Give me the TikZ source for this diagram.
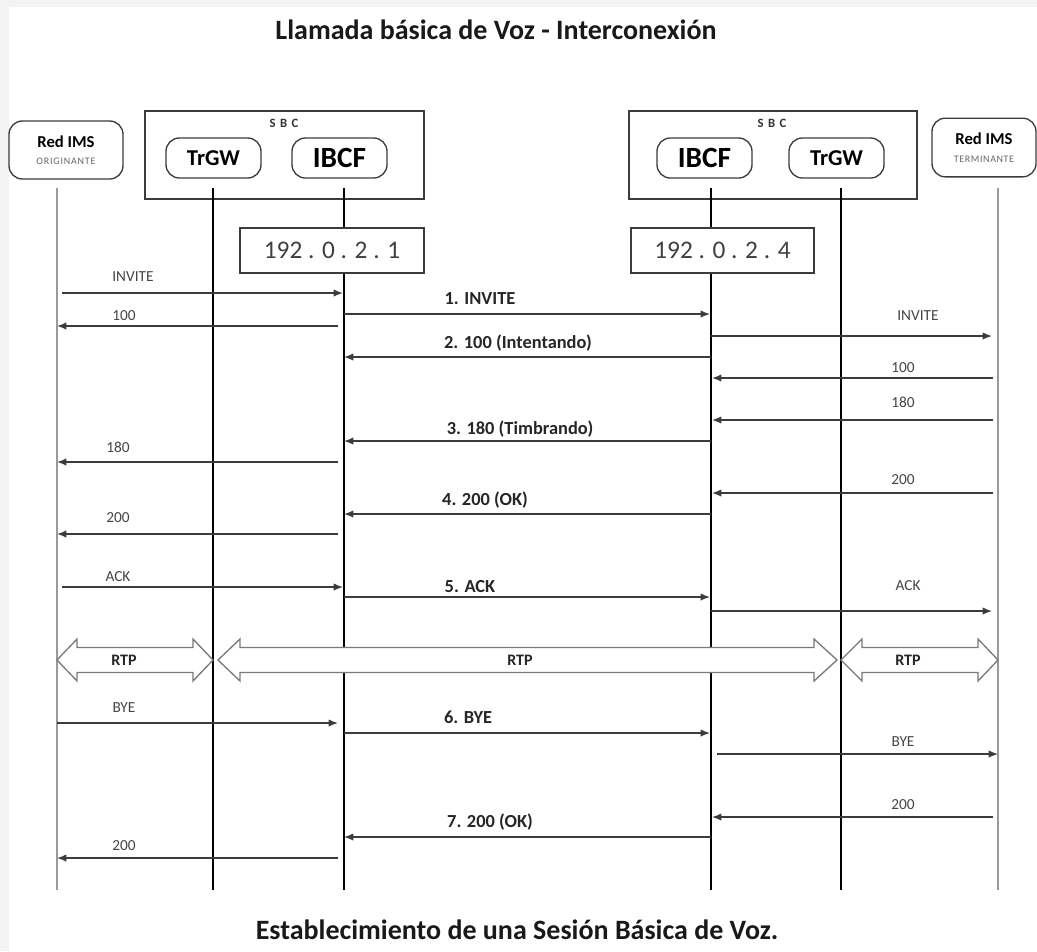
\documentclass[tikz,border=0pt]{standalone}
\usepackage{fontspec}
\setmainfont{Carlito}
\usetikzlibrary{arrows.meta,calc}
\definecolor{bggray}{HTML}{F3F3F3}
\definecolor{linegray}{HTML}{3C3C3C}
\definecolor{lifegray}{HTML}{9A9A9A}
\definecolor{txtgray}{HTML}{454545}
\definecolor{rtpgray}{HTML}{7A7A7A}
\tikzset{
  pbox/.style={draw=linegray, line width=1pt, rounded corners=10pt, inner sep=0pt, fill=white},
  rbox/.style={draw=linegray, line width=1pt, inner sep=0pt, fill=white},
  life/.style={draw=black, line width=1pt},
  lifeg/.style={draw=lifegray, line width=1.5pt},
  msg/.style={draw=linegray, line width=1pt, -{Latex[length=7pt,width=5.5pt]}},
  lab/.style={font=\fontsize{11.5}{13}\selectfont, text=txtgray, inner sep=0pt},
  blab/.style={font=\fontsize{13.8}{15}\selectfont\bfseries, text=black!85, inner sep=0pt},
  rtplab/.style={font=\fontsize{12}{14}\selectfont\bfseries, text=black!85, inner sep=0pt},
  rtp/.style={draw=rtpgray, line width=1pt, fill=white, line join=miter},
  title/.style={font=\fontsize{21}{24}\selectfont\bfseries, text=black!90, inner sep=0pt},
  sbclab/.style={inner sep=0pt, font=\fontsize{9.5}{11}\selectfont\bfseries\addfontfeature{LetterSpace=12}, text=black!80}
}
\begin{document}
\begin{tikzpicture}[x=0.75pt,y=-0.75pt]
\useasboundingbox (0,0) rectangle (1037,951);
\fill[bggray] (0,0) rectangle (1037,951);
\fill[white] (9,7) rectangle (1037,951);

% titles
\node[title] (t1) at (496,30) {Llamada básica de Voz - Interconexión};
\node[title] (t2) at (517,930) {Establecimiento de una Sesión Básica de Voz.};

% SBC boxes
\node[rbox, minimum width=209.25pt, minimum height=66pt] (sbcL) at (284.5,155) {};
\node[rbox, minimum width=216pt, minimum height=66pt] (sbcR) at (773,155) {};
\node[sbclab] (sbcLlab) at (284,123) {S B C};
\node[sbclab] (sbcRlab) at (772,123) {S B C};

% participants
\node[pbox, minimum width=85.5pt, minimum height=43.5pt, align=center] (orig) at (66,150)
  {{\fontsize{12.5}{14}\selectfont\bfseries Red IMS}\\[1pt]{\fontsize{7.5}{9}\selectfont\addfontfeature{LetterSpace=8}\color{black!60}ORIGINANTE}};
\node[pbox, minimum width=78pt, minimum height=44pt, align=center] (term) at (984,147.5)
  {{\fontsize{12.5}{14}\selectfont\bfseries Red IMS}\\[1pt]{\fontsize{7.5}{9}\selectfont\addfontfeature{LetterSpace=6}\color{black!60}TERMINANTE}};
\node[pbox, minimum width=71.25pt, minimum height=30pt, font=\fontsize{17}{19}\selectfont\bfseries] (trgwL) at (213.5,158) {TrGW};
\node[pbox, minimum width=71.25pt, minimum height=30pt, font=\fontsize{22}{24}\selectfont\bfseries] (ibcfL) at (339.5,158) {IBCF};
\node[pbox, minimum width=71.25pt, minimum height=30pt, font=\fontsize{22}{24}\selectfont\bfseries] (ibcfR) at (704.5,158) {IBCF};
\node[pbox, minimum width=71.25pt, minimum height=30pt, font=\fontsize{17}{19}\selectfont\bfseries] (trgwR) at (836.5,158) {TrGW};

% IP boxes
\node[rbox, minimum width=138pt, minimum height=33.75pt, font=\fontsize{19}{21}\selectfont, text=black!75] (ipL) at (332,250.5) {192 . 0 . 2 . 1};
\node[rbox, minimum width=137.25pt, minimum height=33.75pt, font=\fontsize{19}{21}\selectfont, text=black!75] (ipR) at (722.5,250.5) {192 . 0 . 2 . 4};

% lifeline coordinates
\coordinate (O) at (57,188);   \coordinate (Ob) at (57,890);
\coordinate (TL) at (213,188); \coordinate (TLb) at (213,890);
\coordinate (IL) at (344,188); \coordinate (ILb) at (344,890);
\coordinate (IR) at (711,188); \coordinate (IRb) at (711,890);
\coordinate (TR) at (841,188); \coordinate (TRb) at (841,890);
\coordinate (T) at (998,188);  \coordinate (Tb) at (998,890);

% lifelines
\draw[lifeg] (O) -- (Ob);
\draw[lifeg] (T) -- (Tb);
\draw[life] (TL) -- (TLb);
\draw[life] (TR) -- (TRb);
\draw[life] (IL) -- (ipL.north -| IL);
\draw[life] (ipL.south -| IL) -- (ILb);
\draw[life] (IR) -- (ipR.north -| IR);
\draw[life] (ipR.south -| IR) -- (IRb);

% message y levels
\foreach \n/\y in {m1/293,m2/326,m3/314,m4/336,m5/357,m6/378,m7/420,m8/441,m9/462,m10/493,m11/514,m12/534,m13/587,m14/597,m15/611,m16/723,m17/733,m18/754,m19/817,m20/837,m21/858}
  \coordinate (\n) at (0,\y);

% messages
\draw[msg] ($(O |- m1)+(5,0)$) -- ($(IL |- m1)+(-1,0)$);
\node[lab] (l1) at (133,277) {INVITE};
\draw[msg] ($(IL |- m2)+(-6,0)$) -- (O |- m2);
\node[lab] (l2) at (124,316) {100};
\draw[msg] (IL |- m3) -- ($(IR |- m3)+(-1,0)$);
\node[blab] (l3) at (480,299) {1. INVITE};
\draw[msg] (IR |- m4) -- ($(T |- m4)+(-6,0)$);
\node[lab] (l4) at (918,316) {INVITE};
\draw[msg] (IR |- m5) -- (IL |- m5);
\node[blab] (l5) at (518,343) {2. 100 (Intentando)};
\draw[msg] ($(T |- m6)+(-5,0)$) -- ($(IR |- m6)+(1,0)$);
\node[lab] (l6) at (903,368) {100};
\draw[msg] ($(T |- m7)+(-5,0)$) -- ($(IR |- m7)+(1,0)$);
\node[lab] (l7) at (903,402) {180};
\draw[msg] (IR |- m8) -- (IL |- m8);
\node[blab] (l8) at (520,429) {3. 180 (Timbrando)};
\draw[msg] ($(IL |- m9)+(-6,0)$) -- (O |- m9);
\node[lab] (l9) at (118,447) {180};
\draw[msg] ($(T |- m10)+(-5,0)$) -- ($(IR |- m10)+(1,0)$);
\node[lab] (l10) at (903,480) {200};
\draw[msg] (IR |- m11) -- (IL |- m11);
\node[blab] (l11) at (485,500) {4. 200 (OK)};
\draw[msg] ($(IL |- m12)+(-6,0)$) -- (O |- m12);
\node[lab] (l12) at (118,518) {200};
\draw[msg] ($(O |- m13)+(5,0)$) -- ($(IL |- m13)+(-1,0)$);
\node[lab] (l13) at (118,577) {ACK};
\draw[msg] (IL |- m14) -- ($(IR |- m14)+(-1,0)$);
\node[blab] (l14) at (470,587) {5. ACK};
\draw[msg] (IR |- m15) -- ($(T |- m15)+(-6,0)$);
\node[lab] (l15) at (908,586) {ACK};

% RTP double arrows
\draw[rtp] (57,660) -- (77,639) -- (77,647.5) -- (193,647.5) -- (193,639) -- (213,660) -- (193,681) -- (193,672.5) -- (77,672.5) -- (77,681) -- cycle;
\node[rtplab] (r1) at (124,660) {RTP};
\draw[rtp] (218,660) -- (240,639) -- (240,647.5) -- (814,647.5) -- (814,639) -- (837,660) -- (814,681) -- (814,672.5) -- (240,672.5) -- (240,681) -- cycle;
\node[rtplab] (r2) at (520,660) {RTP};
\draw[rtp] (841,660) -- (862,639) -- (862,647.5) -- (978,647.5) -- (978,639) -- (998,660) -- (978,681) -- (978,672.5) -- (862,672.5) -- (862,681) -- cycle;
\node[rtplab] (r3) at (908,660) {RTP};

\draw[msg] (O |- m16) -- ($(IL |- m16)+(-6,0)$);
\node[lab] (l16) at (124,708) {BYE};
\draw[msg] (IL |- m17) -- ($(IR |- m17)+(-1,0)$);
\node[blab] (l17) at (468,717) {6. BYE};
\draw[msg] ($(IR |- m18)+(6,0)$) -- (T |- m18);
\node[lab] (l18) at (903,742) {BYE};
\draw[msg] ($(T |- m19)+(-5,0)$) -- ($(IR |- m19)+(1,0)$);
\node[lab] (l19) at (903,805) {200};
\draw[msg] (IR |- m20) -- (IL |- m20);
\node[blab] (l20) at (490,822) {7. 200 (OK)};
\draw[msg] ($(IL |- m21)+(-6,0)$) -- (O |- m21);
\node[lab] (l21) at (124,846) {200};
\end{tikzpicture}
\end{document}
